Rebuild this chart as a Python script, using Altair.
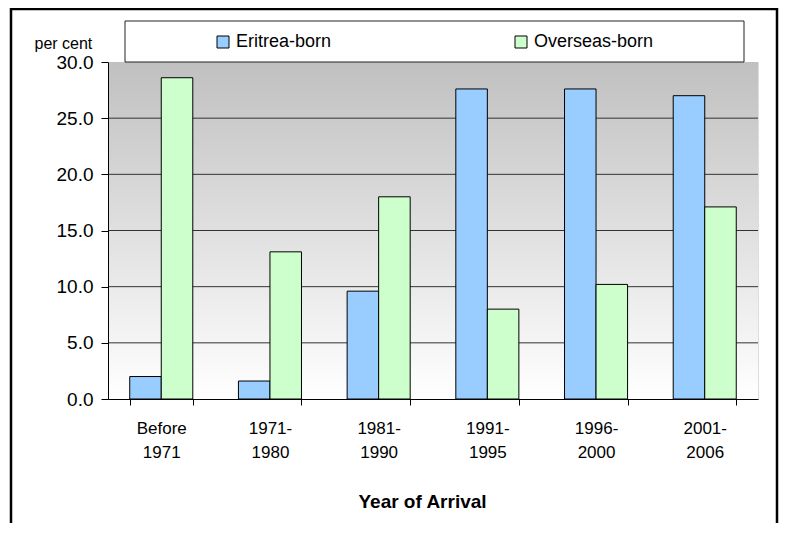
import altair as alt
import pandas as pd

categories = ["Before 1971", "1971-1980", "1981-1990", "1991-1995", "1996-2000", "2001-2006"]
eritrea = [2.0, 1.6, 9.6, 27.6, 27.6, 27.0]
overseas = [28.6, 13.1, 18.0, 8.0, 10.2, 17.1]
series = ["Eritrea-born", "Overseas-born"]
colors = ["#99CCFF", "#CCFFCC"]
y_ticks = [0, 5, 10, 15, 20, 25, 30]
grid_values = [5, 10, 15, 20, 25]

rows = []
for c, e, o in zip(categories, eritrea, overseas):
    rows.append({"period": c, "series": series[0], "value": e})
    rows.append({"period": c, "series": series[1], "value": o})
df = pd.DataFrame(rows)

W, H = 650, 337
FONT = "Liberation Sans"
yscale = alt.Scale(domain=[0, 30], nice=False, zero=True)

yaxis = alt.Axis(
    values=y_ticks, format=".1f", grid=False, zindex=1,
    domainColor="black", tickColor="black", tickSize=7, labelPadding=8,
    labelFontSize=19, labelColor="black", labelFont=FONT,
    title="per cent", titleAngle=0, titleX=-74, titleY=-14,
    titleAlign="left", titleBaseline="alphabetic",
    titleFontSize=16, titleFontWeight="normal", titleFont=FONT, titleColor="black",
)

xaxis = alt.Axis(
    tickBand="extent", zindex=1, labelAngle=0,
    domainColor="black", tickColor="black", tickSize=6, labelPadding=15,
    labelFontSize=17, labelColor="black", labelFont=FONT, labelLineHeight=24,
    labelExpr="datum.label == 'Before 1971' ? ['Before', '1971'] : [slice(datum.label, 0, 5), slice(datum.label, 5)]",
    title="Year of Arrival", titleFontSize=19, titleFontWeight="bold", titleFont=FONT,
    titleColor="black", titleY=108, titleX=314, titleBaseline="alphabetic", titleAlign="center",
)

gradient = alt.Gradient(
    gradient="linear",
    stops=[alt.GradientStop(color="#c0c0c0", offset=0), alt.GradientStop(color="#ffffff", offset=1)],
    x1=0, x2=0, y1=0, y2=1,
)

bg = alt.Chart(pd.DataFrame({"lo": [0], "hi": [30]})).mark_rect(fill=gradient).encode(
    x=alt.value(0), x2=alt.value(W),
    y=alt.Y("hi:Q", scale=yscale, axis=yaxis), y2="lo:Q",
)

grid = alt.Chart(pd.DataFrame({"v": grid_values})).mark_rule(color="#333333", strokeWidth=1).encode(
    x=alt.value(0), x2=alt.value(W),
    y=alt.Y("v:Q", scale=yscale, axis=yaxis),
)

bars = alt.Chart(df).mark_bar(stroke="black", strokeWidth=1).encode(
    x=alt.X("period:N", sort=categories, scale=alt.Scale(paddingInner=0.42, paddingOuter=0.2), axis=xaxis),
    xOffset=alt.XOffset("series:N", sort=series),
    y=alt.Y("value:Q", scale=yscale, axis=yaxis),
    color=alt.Color(
        "series:N", sort=series,
        scale=alt.Scale(domain=series, range=colors),
        legend=alt.Legend(
            orient="none", legendX=106, legendY=-29, direction="horizontal",
            title=None, symbolType="square", symbolSize=144, symbolStrokeColor="black",
            symbolStrokeWidth=1, symbolOpacity=1, labelFontSize=18, labelFont=FONT,
            labelColor="black", labelOffset=4, columnPadding=180, padding=0,
        ),
    ),
)

legend_box = alt.Chart(pd.DataFrame({"a": [0]})).mark_rect(
    fill="transparent", stroke="#222222", strokeWidth=1
).encode(x=alt.value(17), x2=alt.value(636), y=alt.value(-41), y2=alt.value(0))

frame = alt.Chart(pd.DataFrame({"a": [0]})).mark_rect(
    fill="transparent", stroke="black", strokeWidth=2.5
).encode(x=alt.value(-97), x2=alt.value(669), y=alt.value(-53), y2=alt.value(600))

chart = alt.layer(bg, grid, bars, legend_box, frame).properties(
    width=W, height=H,
    autosize=alt.AutoSizeParams(type="none"),
    padding={"left": 100, "top": 54, "right": 21, "bottom": 124},
).configure_view(stroke="black", strokeWidth=1).configure(background="white")

chart.save("out.html", embed_options={"renderer": "svg", "actions": False})
